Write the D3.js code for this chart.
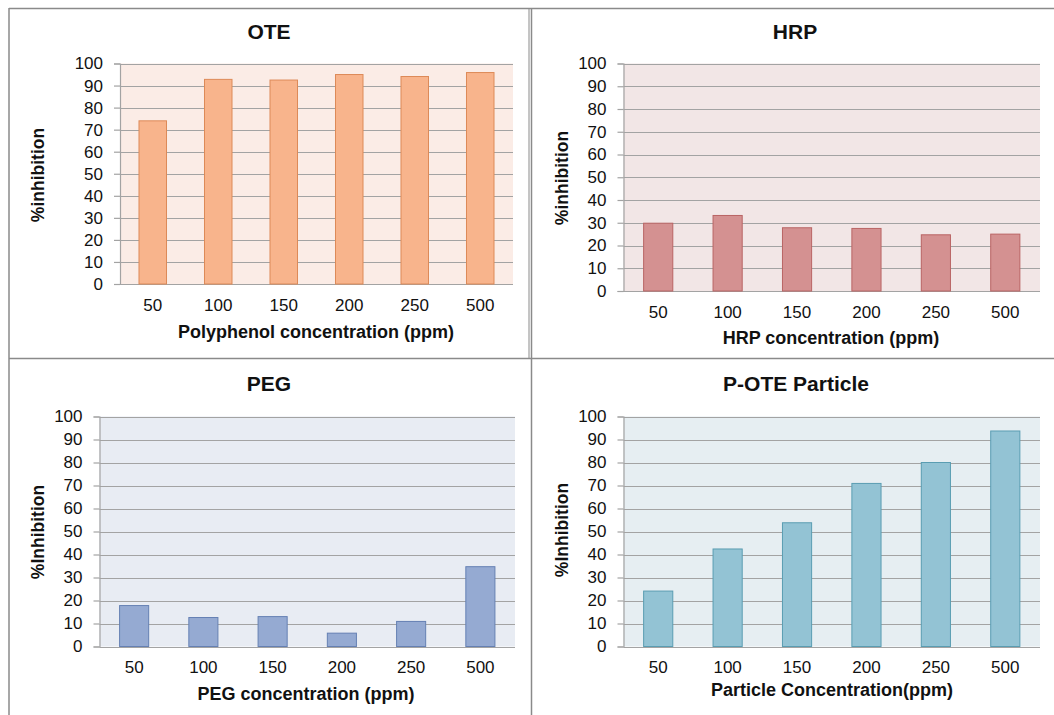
<!DOCTYPE html>
<html>
<head>
<meta charset="utf-8">
<script src="https://cdn.jsdelivr.net/npm/d3@7"></script>
<style>
  html, body { margin: 0; padding: 0; background: #fff; }
  svg { display: block; font-family: Arial, "Liberation Sans", sans-serif; }
</style>
</head>
<body>
<svg id="chart" width="1054" height="715"></svg>
<script>
// Concentration categories shared by all four panels
const concentrations = ["50", "100", "150", "200", "250", "500"];
const yTicks = [0, 10, 20, 30, 40, 50, 60, 70, 80, 90, 100];

// % inhibition for each treatment
const oteValues = [74.0, 92.8, 92.5, 95.0, 94.1, 95.9];
const hrpValues = [29.8, 33.2, 27.8, 27.5, 24.7, 25.0];
const pegValues = [17.8, 12.6, 13.0, 5.8, 10.9, 34.7];
const particleValues = [24.1, 42.4, 53.8, 70.9, 80.0, 93.7];

// Panel titles and axis labels
const panelTitles = ["OTE", "HRP", "PEG", "P-OTE Particle"];
const xTitles = ["Polyphenol concentration (ppm)", "HRP concentration (ppm)", "PEG concentration (ppm)", "Particle Concentration(ppm)"];
const yTitles = ["%inhibition", "%inhibition", "%Inhibition", "%Inhibition"];

const svg = d3.select("#chart");

// Layout and colours for each panel
const panels = [
  { values: oteValues, left: 120, right: 513, top: 63.5, bottom: 284,
    titleX: 269, titleY: 31.5, xTitleX: 316, xTitleY: 331.5, yTitleX: 38, yTitleY: 175,
    bg: "#fbece6", fill: "#f8b48c", stroke: "#dd8a58" },
  { values: hrpValues, left: 623.5, right: 1040, top: 63.5, bottom: 291,
    titleX: 795, titleY: 31.5, xTitleX: 831, xTitleY: 338, yTitleX: 562, yTitleY: 178,
    bg: "#f2e6e6", fill: "#d49191", stroke: "#b96464" },
  { values: pegValues, left: 99.5, right: 515, top: 416.5, bottom: 646.5,
    titleX: 269, titleY: 383.5, xTitleX: 306, xTitleY: 693.5, yTitleX: 38, yTitleY: 532,
    bg: "#e8ecf3", fill: "#95aad2", stroke: "#6580b3" },
  { values: particleValues, left: 623.5, right: 1040, top: 416.5, bottom: 646.5,
    titleX: 796, titleY: 383.5, xTitleX: 832, xTitleY: 690, yTitleX: 562, yTitleY: 530,
    bg: "#e6eef2", fill: "#93c3d4", stroke: "#5a9db2" }
];

// Frame lines separating the four panels
const frame = svg.append("g").attr("stroke", "#8a8a8a").attr("fill", "none");
frame.append("line").attr("x1", 9).attr("x2", 1054).attr("y1", 8.5).attr("y2", 8.5).attr("stroke-width", 1.5);
frame.append("line").attr("x1", 9).attr("x2", 9).attr("y1", 8).attr("y2", 715).attr("stroke-width", 1.5);
frame.append("line").attr("x1", 9).attr("x2", 1054).attr("y1", 358.5).attr("y2", 358.5).attr("stroke-width", 1.5);
frame.append("line").attr("x1", 529).attr("x2", 529).attr("y1", 8).attr("y2", 359).attr("stroke-width", 1);
frame.append("line").attr("x1", 531.5).attr("x2", 531.5).attr("y1", 8).attr("y2", 715).attr("stroke-width", 1.5);

panels.forEach((p, i) => {
  const g = svg.append("g");

  const x = d3.scaleBand().domain(concentrations).range([p.left, p.right]).paddingInner(0.58).paddingOuter(0.29);
  const y = d3.scaleLinear().domain([0, 100]).range([p.bottom, p.top]);

  // Plot area background
  g.append("rect")
    .attr("x", p.left).attr("y", y(100))
    .attr("width", p.right - p.left).attr("height", y(0) - y(100))
    .attr("fill", p.bg);

  // Horizontal gridlines
  g.append("g").selectAll("line").data(yTicks).join("line")
    .attr("x1", p.left).attr("x2", p.right)
    .attr("y1", d => Math.round(y(d)) + 0.5).attr("y2", d => Math.round(y(d)) + 0.5)
    .attr("stroke", "#a3a3a3").attr("stroke-width", 1.2);

  // Y axis with outward ticks
  const yAxis = d3.axisLeft(y).tickValues(yTicks).tickSize(6).tickPadding(11);
  const ya = g.append("g").attr("transform", `translate(${p.left},0)`).call(yAxis);
  ya.select(".domain").attr("stroke", "#a3a3a3").attr("stroke-width", 1.2);
  ya.selectAll(".tick line").attr("stroke", "#a3a3a3").attr("stroke-width", 1.2);
  ya.selectAll(".tick text").attr("font-size", 17).attr("fill", "#111").attr("font-family", "Arial, 'Liberation Sans', sans-serif");

  // X axis category labels
  const xAxis = d3.axisBottom(x).tickSize(0).tickPadding(14.5);
  const xa = g.append("g").attr("transform", `translate(0,${p.bottom})`).call(xAxis);
  xa.select(".domain").remove();
  xa.selectAll(".tick text").attr("font-size", 17).attr("fill", "#111").attr("font-family", "Arial, 'Liberation Sans', sans-serif");

  // Bars
  g.append("g").selectAll("rect").data(p.values).join("rect")
    .attr("x", (d, j) => x(concentrations[j]))
    .attr("y", d => y(d))
    .attr("width", x.bandwidth())
    .attr("height", d => y(0) - y(d))
    .attr("fill", p.fill)
    .attr("stroke", p.stroke)
    .attr("stroke-width", 1);

  // Titles
  g.append("text")
    .attr("x", p.titleX).attr("y", p.titleY)
    .attr("text-anchor", "middle").attr("dominant-baseline", "central")
    .attr("font-size", 21).attr("font-weight", "bold").attr("fill", "#111")
    .text(panelTitles[i]);

  g.append("text")
    .attr("x", p.xTitleX).attr("y", p.xTitleY)
    .attr("text-anchor", "middle").attr("dominant-baseline", "central")
    .attr("font-size", 18).attr("font-weight", "bold").attr("fill", "#111")
    .text(xTitles[i]);

  g.append("text")
    .attr("transform", `translate(${p.yTitleX},${p.yTitleY}) rotate(-90)`)
    .attr("text-anchor", "middle").attr("dominant-baseline", "central")
    .attr("font-size", 17.5).attr("font-weight", "bold").attr("fill", "#111")
    .text(yTitles[i]);
});
</script>
</body>
</html>
